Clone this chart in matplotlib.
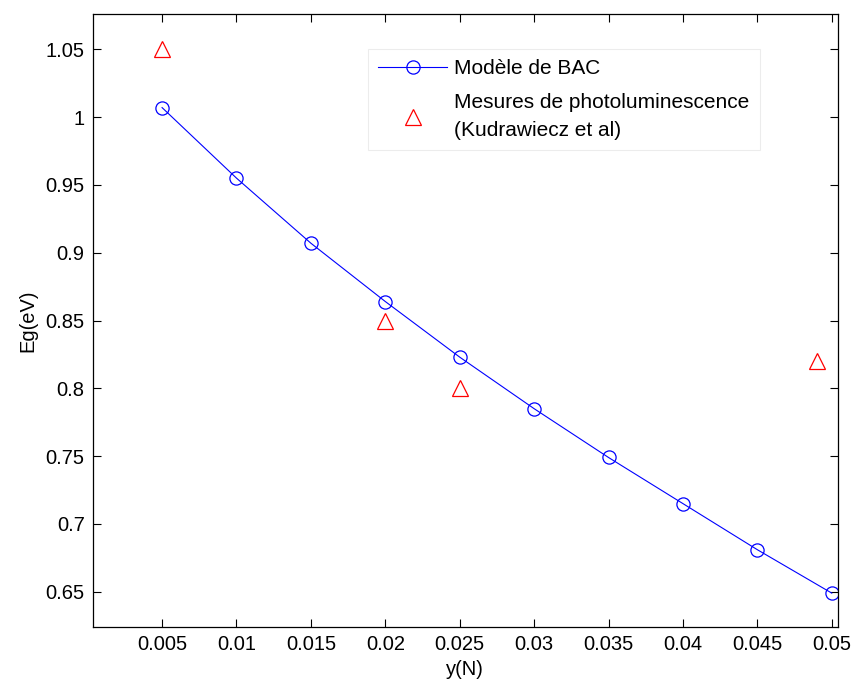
import matplotlib
matplotlib.use('Agg')
import matplotlib.pyplot as plt
from matplotlib.ticker import FuncFormatter

plt.rcParams['font.family'] = ['Liberation Sans', 'DejaVu Sans']

# modele BAC
y_bac = [0.005, 0.01, 0.015, 0.02, 0.025, 0.03, 0.035, 0.04, 0.045, 0.05]
eg_bac = [1.007, 0.955, 0.907, 0.864, 0.823, 0.785, 0.749, 0.715, 0.681, 0.649]

# mesures PL (Kudrawiecz et al)
y_pl = [0.005, 0.02, 0.025, 0.049]
eg_pl = [1.05, 0.85, 0.80, 0.82]

xticks = [0.005, 0.01, 0.015, 0.02, 0.025, 0.03, 0.035, 0.04, 0.045, 0.05]
yticks = [0.65, 0.7, 0.75, 0.8, 0.85, 0.9, 0.95, 1.0, 1.05]

fig = plt.figure(figsize=(8.55, 6.84), dpi=100)
ax = fig.add_axes([0.1088, 0.0833, 0.871, 0.8962])

ax.plot(y_bac, eg_bac, '-o', color='blue', lw=0.8, ms=9.5, mfc='none',
        mec='blue', mew=0.9, label='Modèle de BAC')
ax.plot(y_pl, eg_pl, '^', color='red', ms=11, mfc='none', mec='red',
        mew=0.9, label='Mesures de photoluminescence\n(Kudrawiecz et al)')

ax.set_xlim(0.00036, 0.0504)
ax.set_ylim(0.624, 1.076)
ax.set_xticks(xticks)
ax.set_yticks(yticks)
fmt = FuncFormatter(lambda v, p: '%g' % round(v, 4))
ax.xaxis.set_major_formatter(fmt)
ax.yaxis.set_major_formatter(fmt)
ax.tick_params(direction='in', top=True, right=True, length=6, width=0.8,
               labelsize=14.5, pad=6)
for s in ax.spines.values():
    s.set_linewidth(0.9)

ax.set_xlabel('y(N)', fontsize=14.5, labelpad=4)
ax.set_ylabel('Eg(eV)', fontsize=14.5, labelpad=6)

leg = ax.legend(loc='upper left', bbox_to_anchor=(0.369, 0.943), borderaxespad=0,
                fontsize=15, frameon=True, fancybox=False, edgecolor='#e8e8e8',
                handlelength=3.3, handletextpad=0.35, borderpad=0.5,
                labelspacing=0.7)
leg.get_frame().set_linewidth(0.8)
for t in leg.get_texts():
    t.set_linespacing(1.6)

fig.savefig('out.png', dpi=100)
